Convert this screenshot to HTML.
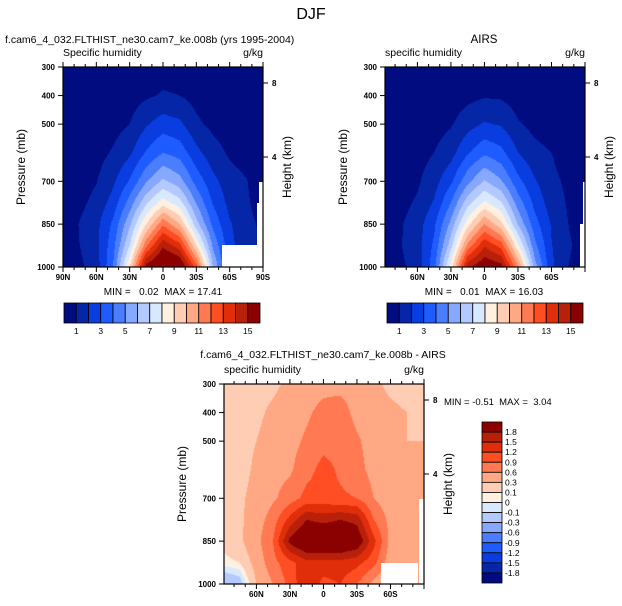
<!DOCTYPE html>
<html><head><meta charset="utf-8">
<style>
body{margin:0;background:#fff;}
#root{position:relative;width:622px;height:606px;overflow:hidden;background:#fff;font-family:"Liberation Sans",sans-serif;}
canvas{position:absolute;}
svg{position:absolute;left:0;top:0;}
text{white-space:pre;}
</style></head>
<body>
<div id="root">
<canvas id="c1" width="200" height="200" style="left:63px;top:67px"></canvas>
<canvas id="c2" width="200" height="200" style="left:385px;top:67px"></canvas>
<canvas id="c3" width="200" height="200" style="left:224px;top:384px"></canvas>
<svg id="s" width="622" height="606"></svg>
</div>
<script>
// ---- data ----
const lats = [90,75,60,45,30,15,0,-15,-30,-45,-60,-75,-90];
const levels = [300,400,500,600,700,775,850,925,1000];
const modelQ = [
 [0.1,0.1,0.15,0.2,0.3,0.45,0.6,0.5,0.35,0.2,0.15,0.1,0.1],
 [0.2,0.25,0.3,0.4,0.55,0.85,1.1,1.0,0.65,0.4,0.3,0.25,0.2],
 [0.25,0.35,0.45,0.65,1.0,1.9,2.5,2.2,1.2,0.75,0.5,0.4,0.3],
 [0.3,0.4,0.65,1.1,1.8,3.1,4.0,3.6,2.3,1.4,0.85,0.6,0.35],
 [0.3,0.55,0.95,1.8,3.1,4.9,6.2,5.4,3.6,2.3,1.4,1.05,0.4],
 [0.35,0.75,1.3,2.4,4.4,6.8,8.5,7.4,4.9,2.9,1.7,1.15,0.5],
 [0.4,1.05,1.7,3.2,5.8,9.0,11.8,10.0,6.4,3.7,2.1,1.3,0.8],
 [0.45,1.0,1.7,3.6,7.0,11.8,14.8,13.4,9.0,4.8,2.3,1.4,0.8],
 [0.5,0.8,1.5,4.0,9.0,15.5,17.0,16.5,12.5,6.0,2.5,1.2,0.5]
];
const airsQ = [
 [0.05,0.1,0.1,0.15,0.25,0.4,0.5,0.45,0.3,0.2,0.1,0.1,0.05],
 [0.1,0.2,0.25,0.35,0.45,0.7,0.9,0.85,0.55,0.4,0.3,0.2,0.1],
 [0.2,0.3,0.45,0.6,0.9,1.6,2.1,1.9,1.1,0.7,0.5,0.35,0.25],
 [0.25,0.35,0.6,1.0,1.6,2.9,3.8,3.3,2.0,1.3,1.0,0.5,0.3],
 [0.3,0.5,0.85,1.6,2.8,4.7,6.1,5.1,3.3,2.1,1.25,0.8,0.4],
 [0.3,0.65,1.15,2.1,4.0,6.6,8.2,7.1,4.5,2.7,1.5,0.9,0.5],
 [0.35,0.9,1.55,2.8,5.3,8.6,11.0,9.3,5.9,3.4,1.9,1.0,0.6],
 [0.4,0.95,1.6,3.2,6.6,11.3,13.9,12.6,8.2,4.3,2.05,1.1,0.7],
 [0.4,0.8,1.4,3.6,8.4,14.8,16.0,15.5,11.2,5.5,2.2,1.0,0.5]
];
const diffQ = [
 [0.2,0.2,0.2,0.25,0.35,0.45,0.5,0.5,0.45,0.35,0.25,0.2,0.2],
 [0.2,0.2,0.25,0.35,0.45,0.55,0.7,0.75,0.5,0.4,0.35,0.3,0.25],
 [0.15,0.2,0.3,0.4,0.5,0.65,0.8,0.8,0.65,0.45,0.35,0.3,0.3],
 [0.15,0.2,0.35,0.5,0.55,0.8,1.0,0.85,0.7,0.5,0.4,0.3,0.3],
 [0.2,0.25,0.4,0.55,0.75,1.0,1.0,0.95,0.9,0.6,0.4,0.35,0.3],
 [0.15,0.25,0.45,0.75,1.3,1.8,1.7,1.8,1.7,0.9,0.5,0.4,0.3],
 [0.15,0.25,0.5,0.9,1.9,2.3,2.3,2.3,2.1,1.3,0.5,0.6,0.3],
 [0.05,0.1,0.4,0.8,1.1,1.4,1.4,1.4,1.3,1.0,0.4,0.6,0.3],
 [-0.3,-0.2,0.3,0.6,1.0,1.5,1.1,1.2,0.9,0.5,0.3,0.3,0.3]
];
const qLevels = [1,2,3,4,5,6,7,8,9,10,11,12,13,14,15];
const qLabels = ['1','3','5','7','9','11','13','15'];
const dLevels = [-1.8,-1.5,-1.2,-0.9,-0.6,-0.3,-0.1,0,0.1,0.3,0.6,0.9,1.2,1.5,1.8];
const dLabels = ['1.8','1.5','1.2','0.9','0.6','0.3','0.1','0','-0.1','-0.3','-0.6','-0.9','-1.2','-1.5','-1.8'];
const palette = ['#000c80','#0626a8','#0a3de0','#1f5cff','#4a7eff','#86a8ff','#b4c9ff','#d8e8ff','#fff0e0','#ffcdb4','#ffa883','#ff7a52','#ff4d24','#e02d0a','#b8200a','#8b0000'];
const pTicks = [300,400,500,700,850,1000];
const hTicks = [[8,16],[4,90]];

// ---- helpers ----
function rgb(h){return [parseInt(h.substr(1,2),16),parseInt(h.substr(3,2),16),parseInt(h.substr(5,2),16)];}
const palRGB = palette.map(rgb);
function sample(grid, lat, p){
  let i=0; while(i<lats.length-2 && lat<lats[i+1]) i++;
  let fx=(lats[i]-lat)/(lats[i]-lats[i+1]); fx=Math.max(0,Math.min(1,fx));
  let j=0; while(j<levels.length-2 && p>levels[j+1]) j++;
  let fy=(p-levels[j])/(levels[j+1]-levels[j]); fy=Math.max(0,Math.min(1,fy));
  const a=grid[j][i],b=grid[j][i+1],c=grid[j+1][i],d=grid[j+1][i+1];
  return (a*(1-fx)+b*fx)*(1-fy)+(c*(1-fx)+d*fx)*fy;
}
function bin(v,lv){let k=0;while(k<lv.length && v>=lv[k])k++;return k;}
function drawField(id,grid,lv,latL,latR){
  const cv=document.getElementById(id),ctx=cv.getContext('2d');
  const img=ctx.createImageData(200,200);
  for(let y=0;y<200;y++){const p=300+(y+0.5)/200*700;
    for(let x=0;x<200;x++){const lat=latL+(x+0.5)/200*(latR-latL);
      const c=palRGB[bin(sample(grid,lat,p),lv)];const o=(y*200+x)*4;
      img.data[o]=c[0];img.data[o+1]=c[1];img.data[o+2]=c[2];img.data[o+3]=255;}}
  ctx.putImageData(img,0,0);
}
drawField('c1',modelQ,qLevels,90,-90);
drawField('c2',airsQ,qLevels,89,-90);
drawField('c3',diffQ,dLevels,89,-90);

const S=document.getElementById('s');const NS='http://www.w3.org/2000/svg';
function el(tag,attrs,name,txt){const e=document.createElementNS(NS,tag);for(const k in attrs)e.setAttribute(k,attrs[k]);
  
  
  if(txt!==undefined)e.textContent=txt;S.appendChild(e);return e;}
function txt(x,y,s,size,anchor,name,extra){const a=Object.assign({x:x,y:y,'font-size':size,'text-anchor':anchor||'start','font-family':'Liberation Sans, sans-serif',fill:'#000'},extra||{});return el('text',a,name,s);}

function panel(x0,y0,latL,showEnds,blanks,opts){
  const lx=lat=>x0+(latL-lat)/(latL+90)*200;
  const py=p=>y0+(p-300)/700*200;
  blanks.forEach(b=>el('rect',{x:b[0],y:b[1],width:b[2],height:b[3],fill:'#fff'},'missing-data-region'));
  el('rect',{x:x0,y:y0,width:200,height:200,fill:'none',stroke:'#000','stroke-width':1.2},'plot-frame');
  for(let lat=-90;lat<=90;lat+=10){if(lat>latL)continue;const X=lx(lat);const maj=lat%30==0;
    el('line',{x1:X,x2:X,y1:y0+200,y2:y0+200+(maj?5:3),stroke:'#000','stroke-width':1},'x-tick');
    el('line',{x1:X,x2:X,y1:y0,y2:y0-(maj?5:3),stroke:'#000','stroke-width':1},'x-tick-top');
    if(maj && (showEnds||Math.abs(lat)<90)){const l=lat==0?'0':Math.abs(lat)+(lat>0?'N':'S');txt(X,y0+213,l,8,'middle','x-tick-label',{'font-weight':'bold'});}}
  pTicks.forEach(p=>{const Y=py(p);el('line',{x1:x0-5,x2:x0,y1:Y,y2:Y,stroke:'#000'},'y-tick');
    txt(x0-8,Y+3,String(p),8,'end','pressure-tick-label',{'font-weight':'bold'});});
  hTicks.forEach(h=>{const Y=y0+h[1];el('line',{x1:x0+200,x2:x0+205,y1:Y,y2:Y,stroke:'#000'},'height-tick');
    txt(x0+209,Y+3,String(h[0]),8,'start','height-tick-label',{'font-weight':'bold'});});
  txt(0,0,'Pressure (mb)',12,'middle','y-axis-title',{transform:`translate(${x0-38},${y0+100}) rotate(-90)`});
  txt(0,0,'Height (km)',12,'middle','right-axis-title',{transform:`translate(${x0+228},${y0+100}) rotate(-90)`});
  txt(x0,y0-11,opts.sub,10.5,'start','variable-label');
  txt(x0+200,y0-11,'g/kg',10.5,'end','units-label');
}
function hbar(x0,y0,w,h,labels,name){const n=palette.length,bw=w/n;
  palette.forEach((c,i)=>el('rect',{x:x0+i*bw,y:y0,width:bw,height:h,fill:c,stroke:'#000','stroke-width':0.8},name+'-box'));
  labels.forEach((l,k)=>txt(x0+bw*(1+2*k),y0+h+11,l,8.5,'middle',name+'-label'));}

txt(311,19,'DJF',16,'middle','figure-title');
txt(5,43,'f.cam6_4_032.FLTHIST_ne30.cam7_ke.008b (yrs 1995-2004)',10.5,'start','model-panel-title');
txt(484,43,'AIRS',11.5,'middle','airs-panel-title');
panel(63,67,90,true,[[222,245,41,22],[259,182,4,63],[257,203,6,42]],{sub:'Specific humidity'});
panel(385,67,89,false,[[583,182,2,85],[580,224,5,43]],{sub:'specific humidity'});
txt(163,295,'MIN =   0.02  MAX = 17.41',10,'middle','model-min-max');
txt(484,295,'MIN =   0.01  MAX = 16.03',10,'middle','airs-min-max');
hbar(64,303,196,20,qLabels,'model-colorbar');
hbar(387,303,196,20,qLabels,'airs-colorbar');
txt(323,358,'f.cam6_4_032.FLTHIST_ne30.cam7_ke.008b - AIRS',10.5,'middle','difference-panel-title');
panel(224,384,89,false,[[381,563,37,21],[419,499,5,85]],{sub:'specific humidity'});
txt(444,405,'MIN = -0.51  MAX =  3.04',9.5,'start','difference-min-max');
// vertical colorbar
(function(){const x0=482,y0=422,w=20,h=161,n=palette.length,bh=h/n;
  palette.slice().reverse().forEach((c,i)=>el('rect',{x:x0,y:y0+i*bh,width:w,height:bh,fill:c,stroke:'#000','stroke-width':0.8},'difference-colorbar-box'));
  dLabels.forEach((l,k)=>txt(x0+w+3,y0+bh*(k+1)+3,l,8.5,'start','difference-colorbar-label'));})();
</script>
</body></html>
